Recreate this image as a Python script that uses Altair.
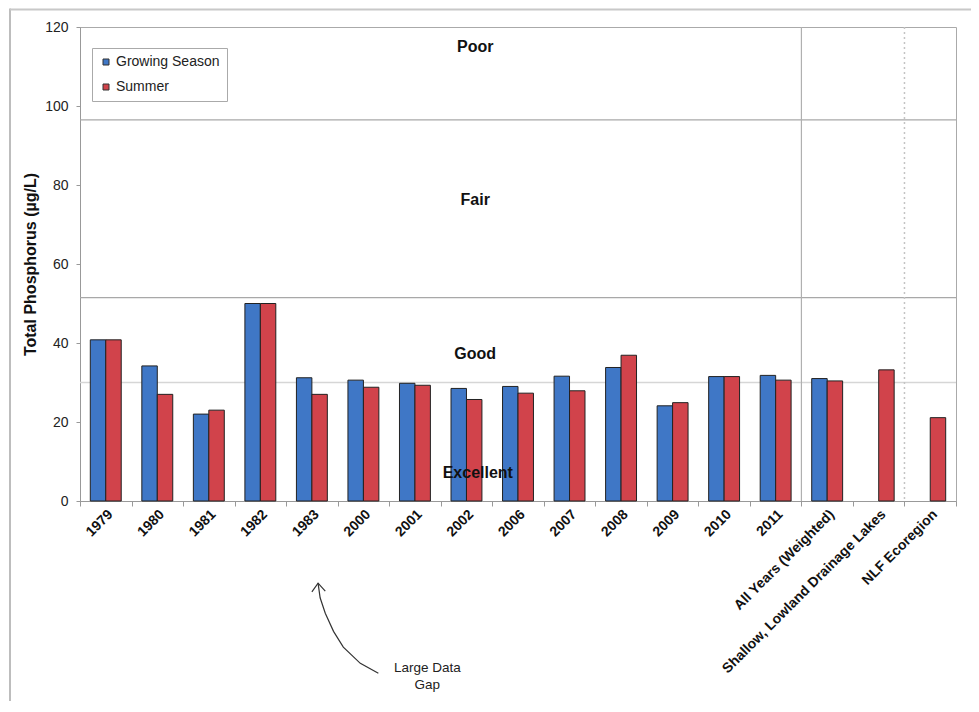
import altair as alt
import pandas as pd

categories = ["1979", "1980", "1981", "1982", "1983", "2000", "2001", "2002",
              "2006", "2007", "2008", "2009", "2010", "2011",
              "All Years (Weighted)", "Shallow, Lowland Drainage Lakes", "NLF Ecoregion"]
series = ["Growing Season", "Summer"]
growing = [40.8, 34.2, 22.0, 50.0, 31.2, 30.6, 29.8, 28.5, 29.0, 31.6, 33.8, 24.1,
           31.5, 31.8, 31.0, None, None]
summer = [40.8, 27.0, 23.0, 50.0, 27.0, 28.8, 29.3, 25.7, 27.3, 27.9, 36.9, 24.9,
          31.5, 30.6, 30.4, 33.2, 21.1]
colors = ["#3f77c6", "#d1434b"]

y_ticks = [0, 20, 40, 60, 80, 100, 120]

zone_names = ["Poor", "Fair", "Good", "Excellent"]
zone_y = [114.9, 76.1, 37.1, 7.0]
zone_x = [7.67, 7.67, 7.67, 7.72]

zone_lines = [96.5, 51.5]
faint_lines = [30]
solid_vlines = [14]
dotted_vlines = [16]

arrow_x = [4.62, 4.66, 4.76, 4.92, 5.11, 5.44, 5.79, 4.50, 4.62, 4.76]
arrow_y = [-20.8, -24.5, -28.4, -33.0, -37.0, -41.1, -43.6, -23.0, -20.8, -22.8]
arrow_part = ["curve"] * 7 + ["head"] * 3
arrow_order = [0, 1, 2, 3, 4, 5, 6, 0, 1, 2]

gap_text = ["Large Data", "Gap"]
gap_x = [6.74, 6.74]
gap_y = [-42.4, -46.6]

FONT = "Liberation Sans"

rows = []
for c, g, s in zip(categories, growing, summer):
    if g is not None:
        rows.append({"category": c, "series": series[0], "value": g})
    if s is not None:
        rows.append({"category": c, "series": series[1], "value": s})
df = pd.DataFrame(rows)

yscale = alt.Scale(domain=[0, 120], nice=False, zero=False)
yaxis = alt.Axis(values=y_ticks, tickSize=4, labelPadding=8, labelFontSize=14,
                 labelColor="#222", labelFont=FONT, domainColor="#999", tickColor="#999",
                 grid=False, title="Total Phosphorus (µg/L)", titleFont=FONT,
                 titleFontSize=16, titleFontWeight="bold", titleColor="#111",
                 titleX=-50, titleY=237, titleAngle=-90, titleBaseline="middle",
                 titleAlign="center")

def yenc(field="value"):
    return alt.Y(f"{field}:Q", scale=yscale, axis=yaxis)

bars = alt.Chart(df).mark_bar(stroke="#222", strokeWidth=1).encode(
    x=alt.X("category:N", sort=categories,
            scale=alt.Scale(domain=categories, paddingInner=0.4, paddingOuter=0.2),
            axis=alt.Axis(title=None, labelAngle=-45, labelAlign="right",
                          labelBaseline="top", labelFont=FONT, labelFontSize=14,
                          labelFontWeight="bold", labelColor="#111", labelLimit=400,
                          labelOverlap=False, labelPadding=6, ticks=False, domain=False,
                          orient="bottom")),
    xOffset=alt.XOffset("series:N", scale=alt.Scale(domain=series, paddingInner=0)),
    y=yenc(),
    color=alt.Color("series:N", scale=alt.Scale(domain=series, range=colors),
                    legend=alt.Legend(orient="none", legendX=12, legendY=21, title=None,
                                      strokeColor="#aaa", fillColor="white", padding=7,
                                      symbolType="square", symbolSize=36,
                                      symbolStrokeColor="#333", symbolStrokeWidth=1,
                                      labelFont=FONT, labelFontSize=14, labelColor="#222",
                                      rowPadding=11, labelOffset=3)),
)

xq_scale = alt.Scale(domain=[0, 17], nice=False, zero=False)
xq_axis = alt.Axis(values=list(range(18)), labels=False, tickSize=5, tickColor="#999",
                   domainColor="#999", grid=False, title=None, orient="bottom")

def xenc(field="pos", axis=True):
    return alt.X(f"{field}:Q", scale=xq_scale, axis=xq_axis if axis else None)

hl = alt.Chart(pd.DataFrame({"value": zone_lines})).mark_rule(
    color="#a8a8a8", strokeWidth=1.3).encode(y=yenc())
hl_faint = alt.Chart(pd.DataFrame({"value": faint_lines})).mark_rule(
    color="#d6d6d6", strokeWidth=1.3).encode(y=yenc())
vl = alt.Chart(pd.DataFrame({"pos": solid_vlines})).mark_rule(
    color="#b0b0b0", strokeWidth=1.2).encode(x=xenc())
vl_dot = alt.Chart(pd.DataFrame({"pos": dotted_vlines})).mark_rule(
    color="#c4c4c4", strokeWidth=1.5, strokeDash=[2, 3]).encode(x=xenc())

arrow = alt.Chart(pd.DataFrame({"pos": arrow_x, "value": arrow_y, "part": arrow_part,
                                "ord": arrow_order})).mark_line(
    color="#333", strokeWidth=1.2, clip=False).encode(
    x=xenc(), y=yenc(), detail="part:N", order="ord:Q")

gap = alt.Chart(pd.DataFrame({"pos": gap_x, "value": gap_y, "label": gap_text})).mark_text(
    font=FONT, fontSize=13.5, color="#222", align="center", baseline="middle",
    clip=False).encode(x=xenc(), y=yenc(), text="label:N")

dummy = pd.DataFrame({"a": [0]})
frame_left = alt.Chart(dummy).mark_rule(color="#bdbdbd", strokeWidth=2, clip=False).encode(
    x=alt.value(-70), y=alt.value(-18.5), y2=alt.value(690))
frame_top = alt.Chart(dummy).mark_rule(color="#c8c8c8", strokeWidth=2, clip=False).encode(
    x=alt.value(-70), x2=alt.value(900), y=alt.value(-17.5))

quant_back = alt.layer(hl_faint, hl, vl, vl_dot, arrow, gap, frame_left, frame_top)

zones = alt.Chart(pd.DataFrame({"pos": zone_x, "value": zone_y, "label": zone_names})).mark_text(
    font=FONT, fontSize=16, fontWeight="bold", color="#111", align="center",
    baseline="middle", clip=False).encode(x=xenc(axis=False), y=yenc(), text="label:N")

chart = alt.layer(quant_back, bars, zones).resolve_scale(x="independent").properties(
    width=876, height=474,
    autosize=alt.AutoSizeParams(type="none"),
    padding={"left": 72, "top": 19, "right": 15, "bottom": 200},
).configure_view(stroke="#aaa", strokeWidth=1)

chart.save("out.html", embed_options={"renderer": "svg", "actions": False})
